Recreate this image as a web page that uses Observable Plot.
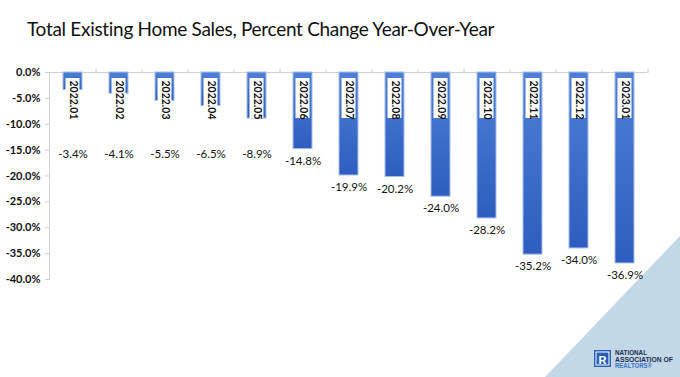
<!DOCTYPE html>
<html>
<head>
<meta charset="utf-8">
<script src="https://cdn.jsdelivr.net/npm/d3@7"></script>
<script src="https://cdn.jsdelivr.net/npm/@observablehq/plot@0.6"></script>
<style>
  html, body { margin: 0; padding: 0; background: #fff; }
  #wrap { position: relative; width: 680px; height: 377px; overflow: hidden; font-family: Lato, "Open Sans", sans-serif; }
  #deco { position: absolute; left: 0; top: 0; }
  #title { position: absolute; left: 27px; top: 17px; font-size: 19px; letter-spacing: -0.3px; color: #111; white-space: nowrap; }
  #chart { position: absolute; left: 0; top: 56px; }
</style>
</head>
<body>
<div id="wrap">
  <svg id="deco" width="680" height="377" xmlns="http://www.w3.org/2000/svg">
    <polygon points="680,236 680,377 545,377" fill="#c2d8e7"></polygon>
    <rect x="594" y="350" width="17" height="17" fill="#2b5fb5"></rect>
    <rect x="596" y="352" width="13" height="13" fill="none" stroke="#ffffff" stroke-width="1"></rect>
    <text x="602.5" y="363.5" text-anchor="middle" font-family="Liberation Sans, sans-serif" font-weight="bold" font-size="11" fill="#ffffff">R</text>
    <text x="615" y="355" font-family="Liberation Sans, sans-serif" font-weight="bold" font-size="6.5" fill="#1d2b4f" textLength="32" lengthAdjust="spacingAndGlyphs">NATIONAL</text>
    <text x="615" y="361.5" font-family="Liberation Sans, sans-serif" font-weight="bold" font-size="6.5" fill="#1d2b4f" textLength="58" lengthAdjust="spacingAndGlyphs">ASSOCIATION OF</text>
    <text x="615" y="368" font-family="Liberation Sans, sans-serif" font-weight="bold" font-size="6.5" fill="#3a72c9" textLength="37" lengthAdjust="spacingAndGlyphs">REALTORS®</text>
  </svg>
  <div id="title">Total Existing Home Sales, Percent Change Year-Over-Year</div>
  <div id="chart"></div>
</div>
<script>
const months = ["2022.01","2022.02","2022.03","2022.04","2022.05","2022.06","2022.07","2022.08","2022.09","2022.10","2022.11","2022.12","2023.01"];
const changes = [-3.4, -4.1, -5.5, -6.5, -8.9, -14.8, -19.9, -20.2, -24.0, -28.2, -35.2, -34.0, -36.9];
const yTicks = [0, -5, -10, -15, -20, -25, -30, -35, -40];

const data = months.map((m, i) => ({month: m, value: changes[i]}));
const fmt = d => d.toFixed(1) + "%";

const defs = () => {
  const ns = "http://www.w3.org/2000/svg";
  const d = document.createElementNS(ns, "defs");
  d.innerHTML = `<linearGradient id="barGrad" x1="0" y1="0" x2="0" y2="1">
      <stop offset="0%" stop-color="#4f80d5"></stop>
      <stop offset="100%" stop-color="#2e5dbf"></stop>
    </linearGradient>`;
  return d;
};

const width = 680, height = 321, marginLeft = 49, marginRight = 33;
const halfStep = (width - marginLeft - marginRight) / months.length / 2;

const chart = Plot.plot({
  width, height,
  marginTop: 16, marginBottom: 98, marginLeft, marginRight,
  style: {fontFamily: "Lato, 'Open Sans', sans-serif", background: "transparent", color: "#111"},
  x: {domain: months, paddingInner: 0.59, paddingOuter: 0.295, axis: null},
  y: {domain: [-40, 0], axis: null},
  marks: [
    defs,
    Plot.frame({anchor: "left", stroke: "#d0d0d0"}),
    Plot.ruleY([0], {stroke: "#d0d0d0"}),
    Plot.axisX(months, {anchor: "top", label: null, tickSize: 4, tickFormat: () => "", dx: halfStep, stroke: "#d0d0d0"}),
    Plot.axisY(yTicks, {anchor: "left", label: null, tickSize: 4, tickPadding: 5, tickFormat: fmt, fontWeight: "bold", fontSize: 11, fill: "#111", stroke: "#d0d0d0"}),
    Plot.barY(data, {x: "month", y: "value", fill: "url(#barGrad)", stroke: "#a2bfec", strokeWidth: 1}),
    // white boxes behind the month labels
    Plot.barY(data, {x: "month", y1: () => 0, y2: () => 0, insetTop: 6, insetBottom: -46, insetLeft: 2.5, insetRight: 2.5, fill: "#ffffff"}),
    Plot.text(data, {x: "month", y: () => 0, text: "month", rotate: 90, textAnchor: "start", dy: 8, fontSize: 10.5, fontWeight: "bold", fill: "#111"}),
    Plot.text(data, {x: "month", y: d => Math.min(d.value, -13.5), text: d => fmt(d.value), dy: 12, fontSize: 11.5, fill: "#111"})
  ]
});

document.getElementById("chart").appendChild(chart);
</script>
</body>
</html>
